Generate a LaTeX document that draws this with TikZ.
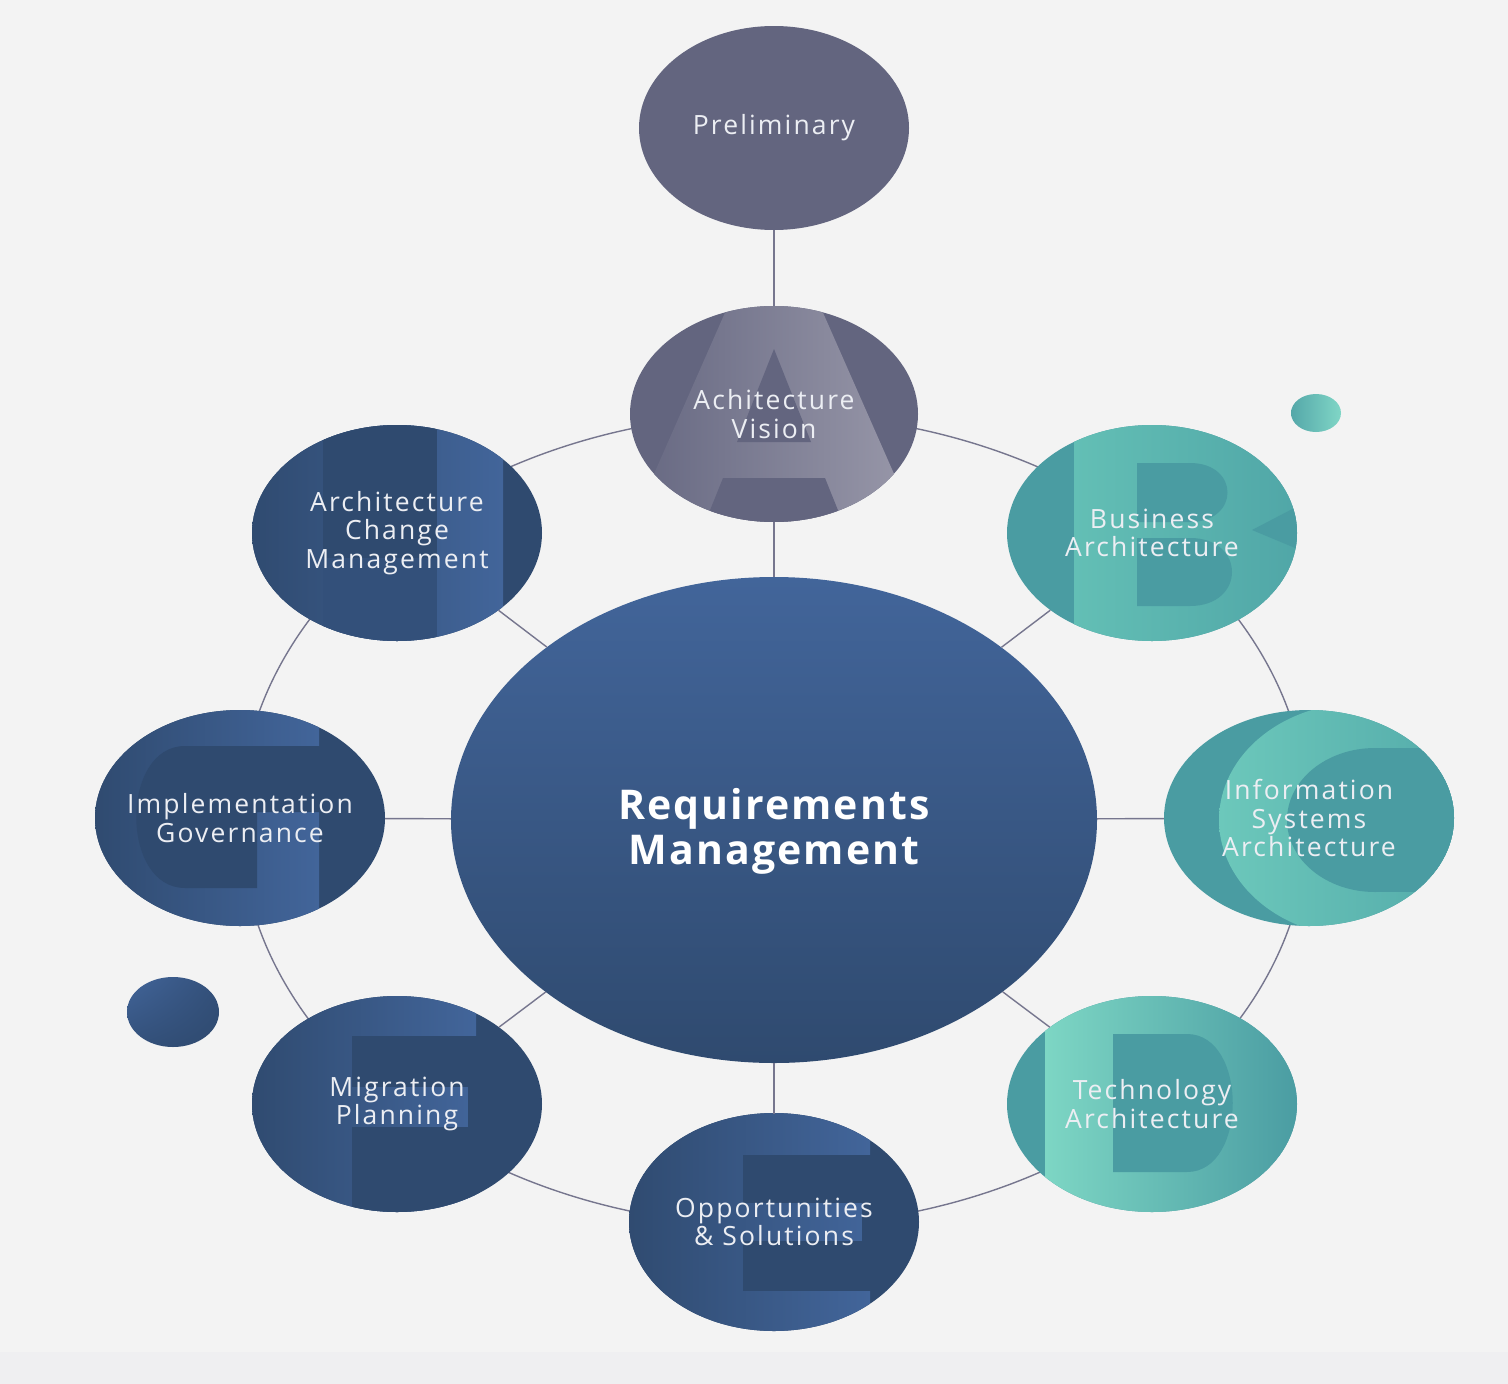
\documentclass[tikz,border=0pt]{standalone}
\usepackage{fontspec}
\setmainfont{Open Sans}
\newfontfamily\phasefont[LetterSpace=8]{Open Sans}
\newfontfamily\titlefont[LetterSpace=5]{Open Sans}
\usetikzlibrary{shapes.geometric,shadings}
\definecolor{bg}{HTML}{F3F3F3}
\definecolor{bgstrip}{HTML}{EFEFF1}
\definecolor{ringline}{HTML}{76768E}
\definecolor{slate}{HTML}{63657F}
\definecolor{slatelight}{HTML}{9C9BAC}
\definecolor{navy}{HTML}{2F4A6F}
\definecolor{navymid}{HTML}{33507A}
\definecolor{navylight}{HTML}{42659A}
\definecolor{tealbase}{HTML}{4A9CA2}
\definecolor{tealright}{HTML}{50A6A7}
\definecolor{tealB}{HTML}{63BFB5}
\definecolor{tealC}{HTML}{6CC8BB}
\definecolor{tealD}{HTML}{7DD6C4}
\definecolor{tealdot}{HTML}{80D6C6}
\definecolor{phasetext}{HTML}{ECEEF3}

\begin{document}
\begin{tikzpicture}[x=1pt,y=-1pt,
  phase/.style={ellipse, minimum width=290pt, minimum height=216pt, inner xsep=-30pt, inner ysep=-10pt,
                align=center, text=phasetext, font={\phasefont\fontsize{26.5}{28.5}\selectfont}},
  link/.style={draw=ringline, line width=1.4pt}]
  \useasboundingbox (0,0) rectangle (1508,1384);
  \fill[bg] (0,0) rectangle (1508,1384);
  \fill[bgstrip] (0,1352) rectangle (1508,1384);

  % ring through the phases
  \draw[link] (774,820) ellipse[x radius=534pt, y radius=406pt];

  % small dots
  \shade[left color=tealbase!80!tealdot, right color=tealdot] (1316,413) ellipse[x radius=25pt, y radius=19pt];
  \shade[upper left=navylight, lower right=navy, upper right=navymid, lower left=navymid]
    (173,1012) ellipse[x radius=46pt, y radius=35pt];

  \node[phase, fill=slate, minimum width=270pt, minimum height=204pt] (pre) at (774,128) {Preliminary};

  % A
  \begin{scope}
    \clip (774,414) ellipse[x radius=144pt, y radius=108pt];
    \fill[slate] (620,300) rectangle (930,530);
    \shade[left color=slate, right color=slatelight] (735,290) -- (813,290) -- (932,560) -- (616,560) -- cycle;
    \fill[slate] (774,349) -- (811,442) -- (737,442) -- cycle;
    \fill[slate] (723,478) -- (825,478) -- (858,560) -- (690,560) -- cycle;
  \end{scope}
  \node[phase] (vis) at (774,414) {Achitecture\\Vision};

  % B
  \begin{scope}
    \clip (1152,533) ellipse[x radius=145pt, y radius=108pt];
    \fill[tealbase] (1000,420) rectangle (1300,650);
    \shade[left color=tealB, right color=tealright] (1074,415) rectangle (1300,650);
    \fill[tealbase] (1137,463) -- (1190,463) .. controls (1240,463) and (1240,522) .. (1190,522) -- (1137,522) -- cycle;
    \fill[tealbase] (1137,538) -- (1190,538) .. controls (1246,538) and (1246,606) .. (1190,606) -- (1137,606) -- cycle;
    \fill[tealbase] (1300,505) -- (1252,530) -- (1300,550) -- cycle;
  \end{scope}
  \node[phase] (bus) at (1152,533) {Business\\Architecture};

  % C
  \begin{scope}
    \clip (1309,818) ellipse[x radius=145pt, y radius=108pt];
    \fill[tealbase] (1160,705) rectangle (1460,935);
    \shade[left color=tealC, right color=tealright] (1360,820) ellipse[x radius=141pt, y radius=117pt];
    \fill[tealbase] (1375,820) ellipse[x radius=88pt, y radius=72pt];
    \fill[tealbase] (1375,748) rectangle (1460,892);
  \end{scope}
  \node[phase] (isa) at (1309,818) {Information\\Systems\\Architecture};

  % D
  \begin{scope}
    \clip (1152,1104) ellipse[x radius=145pt, y radius=108pt];
    \fill[tealbase] (1000,990) rectangle (1300,1220);
    \shade[left color=tealD, right color=tealbase] (1045,990) rectangle (1300,1220);
    \fill[tealbase] (1113,1034) -- (1187,1034) .. controls (1248,1034) and (1248,1172) .. (1187,1172) -- (1113,1172) -- cycle;
  \end{scope}
  \node[phase] (tec) at (1152,1104) {Technology\\Architecture};

  % E
  \begin{scope}
    \clip (774,1222) ellipse[x radius=145pt, y radius=109pt];
    \fill[navy] (620,1105) rectangle (930,1340);
    \shade[left color=navy, right color=navylight] (620,1105) rectangle (870,1340);
    \fill[navy] (743,1155) rectangle (875,1203);
    \fill[navy] (862,1203) rectangle (875,1241);
    \fill[navy] (743,1241) rectangle (875,1291);
  \end{scope}
  \node[phase] (opp) at (774,1222) {Opportunities\\\& Solutions};

  % F
  \begin{scope}
    \clip (397,1104) ellipse[x radius=145pt, y radius=108pt];
    \fill[navy] (245,990) rectangle (550,1220);
    \shade[left color=navy, right color=navylight] (245,990) rectangle (476,1220);
    \fill[navy] (352,1036) rectangle (480,1087);
    \fill[navy] (468,1087) rectangle (480,1127);
    \fill[navy] (352,1127) rectangle (480,1220);
  \end{scope}
  \node[phase] (mig) at (397,1104) {Migration\\Planning};

  % G
  \begin{scope}
    \clip (240,818) ellipse[x radius=145pt, y radius=108pt];
    \fill[navy] (90,705) rectangle (390,935);
    \shade[left color=navy, right color=navylight] (90,705) rectangle (319,935);
    \fill[navy] (330,746) -- (185,746) .. controls (120,746) and (120,888) .. (185,888) -- (257,888) -- (257,812) -- (330,812) -- cycle;
  \end{scope}
  \node[phase] (imp) at (240,818) {Implementation\\Governance};

  % H
  \begin{scope}
    \clip (397,533) ellipse[x radius=145pt, y radius=108pt];
    \fill[navy] (245,420) rectangle (550,650);
    \shade[left color=navy, right color=navylight] (245,420) rectangle (503,650);
    \fill[navy] (323,420) rectangle (437,558);
    \fill[navymid] (323,558) rectangle (437,650);
  \end{scope}
  \node[phase] (acm) at (397,533) {Architecture\\Change\\Management};

  \node[ellipse, top color=navylight, bottom color=navy, minimum width=646pt, minimum height=486pt, inner sep=0pt] (req) at (774,820) {};
  \node[align=center, text=white, font={\titlefont\bfseries\fontsize{41}{45}\selectfont}] (reqtext) at (774,831) {Requirements\\Management};

  \draw[link] (pre) -- (vis);
  \draw[link] (vis) -- (req);
  \draw[link] (bus) -- (req);
  \draw[link] (isa) -- (req);
  \draw[link] (tec) -- (req);
  \draw[link] (opp) -- (req);
  \draw[link] (mig) -- (req);
  \draw[link] (imp) -- (req);
  \draw[link] (acm) -- (req);
\end{tikzpicture}
\end{document}
